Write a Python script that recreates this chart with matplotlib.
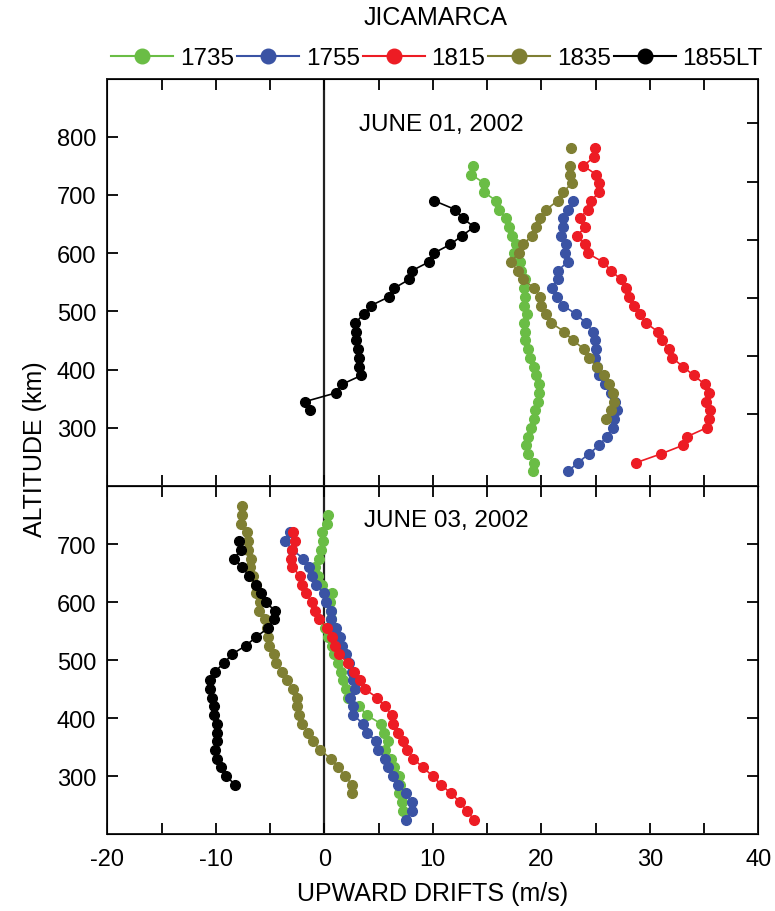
import numpy as np
import matplotlib
matplotlib.use("Agg")
import matplotlib.pyplot as plt
from matplotlib.lines import Line2D
from matplotlib.ticker import MultipleLocator

plt.rcParams['font.family'] = ['Liberation Sans', 'DejaVu Sans']
plt.rcParams['axes.unicode_minus'] = False

nan = np.nan

# ---- JUNE 01, 2002 profiles (altitude km, drift m/s)
alt1_1735 = [750, 735, 720, 705, 690, 675, 660, 645, 630, 615, 600, 585, 570, 555, 540, 525, 510, 495,
             480, 465, 450, 435, 420, 405, 390, 375, 360, 345, 330, 315, 300, 285, 270, 255, 240, 225]
v1_1735 = [13.73, 13.55, 14.75, 14.68, 15.85, 16.06, 16.74, 17.05, 17.33, 17.66, 17.51, 18.00, 18.16,
           18.52, 18.40, 18.50, 18.43, 18.68, 18.40, 18.50, 18.50, 18.80, 18.92, 19.29, 19.47, 19.75,
           19.82, 19.69, 19.38, 19.29, 19.08, 18.73, 18.61, 18.80, 19.29, 19.20]

alt1_1755 = [690, 675, 660, 645, 630, 615, 600, 585, 570, 555, 540, 525, 510, 495, 480, 465,
             450, 435, 420, 405, 390, 375, 360, 345, 330, 315, 300, 285, 270, 255, 240, 225]
v1_1755 = [22.92, 22.49, 22.03, 22.03, 21.84, 22.24, 22.15, 22.42, 21.53, 21.53, 20.95, 21.41,
           22.03, 23.19, 24.14, 24.76, 24.95, 25.04, 24.91, 25.13, 25.32, 25.83, 26.42, 26.75,
           26.97, 26.73, 26.57, 26.01, 25.35, 24.36, 23.38, 22.42]

alt1_1815 = [780, 765, 750, 735, 720, 705, 690, 675, 660, 645, 630, 615, 600, 585, 570, 555, 540, 525,
             510, 495, 480, 465, 450, 435, 420, 405, 390, 375, 360, 345, 330, 315, 300, 285, 270, 255, 240]
v1_1815 = [24.97, 24.86, 23.87, 25.06, 25.28, 25.35, 24.58, 24.26, 23.57, 24.05, 23.29, 23.99, 24.26,
           25.65, 26.45, 27.31, 27.77, 28.10, 28.51, 29.06, 29.65, 30.75, 31.12, 31.80, 32.07, 33.06,
           34.04, 35.05, 35.42, 35.20, 35.58, 35.42, 35.23, 33.45, 33.06, 31.00, 28.72]

alt1_1835 = [780, 765, 750, 735, 720, 705, 690, 675, 660, 645, 630, 615, 600, 585, 570, 555, 540, 525,
             510, 495, 480, 465, 450, 435, 420, 405, 390, 375, 360, 345, 330, 315]
v1_1835 = [22.74, nan, 22.61, 22.68, 22.79, 22.03, 21.50, 20.46, 19.88, 19.47, 19.17, 18.28, 17.90,
           17.21, 17.81, 18.28, 19.35, 19.88, 19.97, 20.46, 20.92, 22.12, 22.92, 23.96, 24.35, 25.13,
           25.74, 26.20, 26.61, 26.66, 26.45, 25.96]

alt1_1855 = [690, 675, 660, 645, 630, 615, 600, 585, 570, 555, 540, 525, 510, 495, 480, 465,
             450, 435, 420, 405, 390, 375, 360, 345, 330]
v1_1855 = [10.14, 12.05, 12.76, 13.80, 12.69, 11.61, 10.08, 9.65, 8.08, 7.83, 6.45, 5.96, 4.30,
           3.63, 2.83, 2.92, 2.95, 3.13, 3.23, 3.20, 3.41, 1.66, 1.08, -1.78, -1.29]

# ---- JUNE 03, 2002 profiles
alt3_1735 = [750, 735, 720, 705, 690, 675, 660, 645, 630, 615, 600, 585, 570, 555, 540, 525, 510, 495,
             480, 465, 450, 435, 420, 405, 390, 375, 360, 345, 330, 315, 300, 285, 270, 255, 240]
v3_1735 = [0.31, 0.22, -0.18, -0.12, -0.28, -0.49, -0.82, -0.58, -0.24, 0.68, 0.53, 0.62, 0.62,
           0.06, 0.37, 0.68, 0.89, 1.25, 1.54, 1.75, 2.00, 2.21, 3.23, 3.91, 5.23, 5.50, 5.90, 5.62,
           6.18, 6.42, 6.91, 6.98, 6.91, 7.13, 7.23]

alt3_1755 = [720, 705, 690, 675, 660, 645, 630, 615, 600, 585, 570, 555, 540, 525, 510, 495, 480,
             465, 450, 435, 420, 405, 390, 375, 360, 345, 330, 315, 300, 285, 270, 255, 240, 225]
v3_1755 = [-3.16, -3.62, -2.95, -1.94, -1.38, -1.16, -0.79, -0.03, 0.16, 0.59, 0.59, 1.05, 1.45,
           1.65, 2.00, 2.30, 2.52, 2.61, 2.83, 2.40, 2.67, 2.67, 3.59, 3.91, 4.76, 4.98, 5.59, 5.90,
           6.36, 6.82, 7.53, 8.05, 8.05, 7.53]

alt3_1815 = [720, 705, 690, 675, 660, 645, 630, 615, 600, 585, 570, 555, 540, 525, 510, 495, 480,
             465, 450, 435, 420, 405, 390, 375, 360, 345, 330, 315, 300, 285, 270, 255, 240, 225]
v3_1815 = [-2.86, -2.70, -3.00, -3.07, -2.95, -2.24, -2.03, -1.71, -1.16, -0.86, -0.46, 0.28, 0.74,
           0.99, 1.38, 2.14, 2.72, 3.29, 3.71, 4.88, 5.59, 6.24, 6.33, 6.82, 7.25, 7.65, 8.20, 9.07,
           9.99, 10.76, 11.68, 12.51, 13.12, 13.80]

alt3_1835 = [765, 750, 735, 720, 705, 690, 675, 660, 645, 630, 615, 600, 585, 570, 555, 540, 525,
             510, 495, 480, 465, 450, 435, 420, 405, 390, 375, 360, 345, 330, 315, 300, 285, 270]
v3_1835 = [-7.56, -7.56, -7.71, -7.15, -7.03, -7.00, -6.78, -6.85, -6.60, -6.29, -6.27, -5.90, -5.99,
           -5.44, -5.25, -5.22, -5.10, -4.66, -4.42, -3.90, -3.44, -2.86, -2.54, -2.49, -2.36, -2.08,
           -1.50, -1.07, -0.37, 0.59, 1.26, 1.94, 2.53, 2.53]

alt3_1855 = [705, 690, 675, 660, 645, 630, 615, 600, 585, 570, 555, 540, 525, 510, 495, 480, 465,
             450, 435, 420, 405, 390, 375, 360, 345, 330, 315, 300, 285]
v3_1855 = [-7.86, -7.65, -8.35, -7.56, -6.94, -6.27, -5.83, -5.40, -4.57, -4.64, -5.19, -6.27, -7.22,
           -8.51, -9.22, -10.10, -10.51, -10.51, -10.35, -10.14, -10.19, -9.89, -9.86, -9.89, -10.07,
           -9.86, -9.52, -9.09, -8.20]

labels = ['1735', '1755', '1815', '1835', '1855LT']
colors = ['#6abd45', '#3a53a4', '#ed1c24', '#7f7f33', '#000000']

day1 = [(v1_1735, alt1_1735), (v1_1755, alt1_1755), (v1_1815, alt1_1815),
        (v1_1835, alt1_1835), (v1_1855, alt1_1855)]
day3 = [(v3_1735, alt3_1735), (v3_1755, alt3_1755), (v3_1815, alt3_1815),
        (v3_1835, alt3_1835), (v3_1855, alt3_1855)]

fig = plt.figure(figsize=(7.75, 9.12), dpi=100)
ax1 = fig.add_axes([0.1385, 0.466, 0.84, 0.4468])
ax2 = fig.add_axes([0.1385, 0.0844, 0.84, 0.3816])

FS_TICK = 17
FS = 17.5
for ax, day, ylim, yt, title, tpos in [
        (ax1, day1, (200, 900), [300, 400, 500, 600, 700, 800], 'JUNE 01, 2002', (0.387, 0.888)),
        (ax2, day3, (200, 800), [300, 400, 500, 600, 700], 'JUNE 03, 2002', (0.394, 0.902))]:
    ax.axvline(0, color='#222222', lw=1.6, zorder=1)
    for (v, a), c in zip(day, colors):
        ax.plot(v, a, '-o', color=c, lw=1.2, ms=7, mec=c, zorder=3)
    ax.set_xlim(-20, 40)
    ax.set_ylim(*ylim)
    ax.set_yticks(yt)
    ax.xaxis.set_major_locator(MultipleLocator(10))
    ax.xaxis.set_minor_locator(MultipleLocator(5))
    ax.tick_params(which='both', direction='in', length=8, width=1.3, top=True, right=False,
                   labelsize=FS_TICK)
    ax.tick_params(axis='y', pad=8)
    ax.tick_params(axis='x', pad=10)
    for s in ax.spines.values():
        s.set_linewidth(1.4)
        s.set_color('#222222')
    ax.text(tpos[0], tpos[1], title, transform=ax.transAxes, fontsize=FS,
            ha='left', va='center')

ax1.tick_params(labelbottom=False)

# right-hand tick marks
r1 = ax1.twinx()
r1.set_ylim(200, 900)
r1.set_yticks([323, 423, 523, 623, 723, 823])
r1.tick_params(direction='in', length=8, width=1.3, labelright=False)
r2 = ax2.twinx()
r2.set_ylim(200, 800)
r2.set_yticks([300, 400, 500, 600, 700])
r2.tick_params(direction='in', length=8, width=1.3, labelright=False)

ax2.set_xlabel('UPWARD DRIFTS (m/s)', fontsize=18, labelpad=8)
fig.text(0.045, 0.507, 'ALTITUDE (km)', rotation=90, fontsize=18, ha='center', va='center')
fig.text(436 / 775, 1 - 18 / 912, 'JICAMARCA', fontsize=18, ha='center', va='center')

handles = [Line2D([], [], color=c, lw=1.5, marker='o', ms=10.5, mec=c) for c in colors]
fig.legend(handles, labels, loc='center', bbox_to_anchor=(437 / 775, 1 - 59 / 912), ncol=5,
           frameon=False, fontsize=FS, handlelength=2.55, handletextpad=0.28, columnspacing=0.12,
           borderpad=0, borderaxespad=0)

fig.savefig('out.png', dpi=100)
